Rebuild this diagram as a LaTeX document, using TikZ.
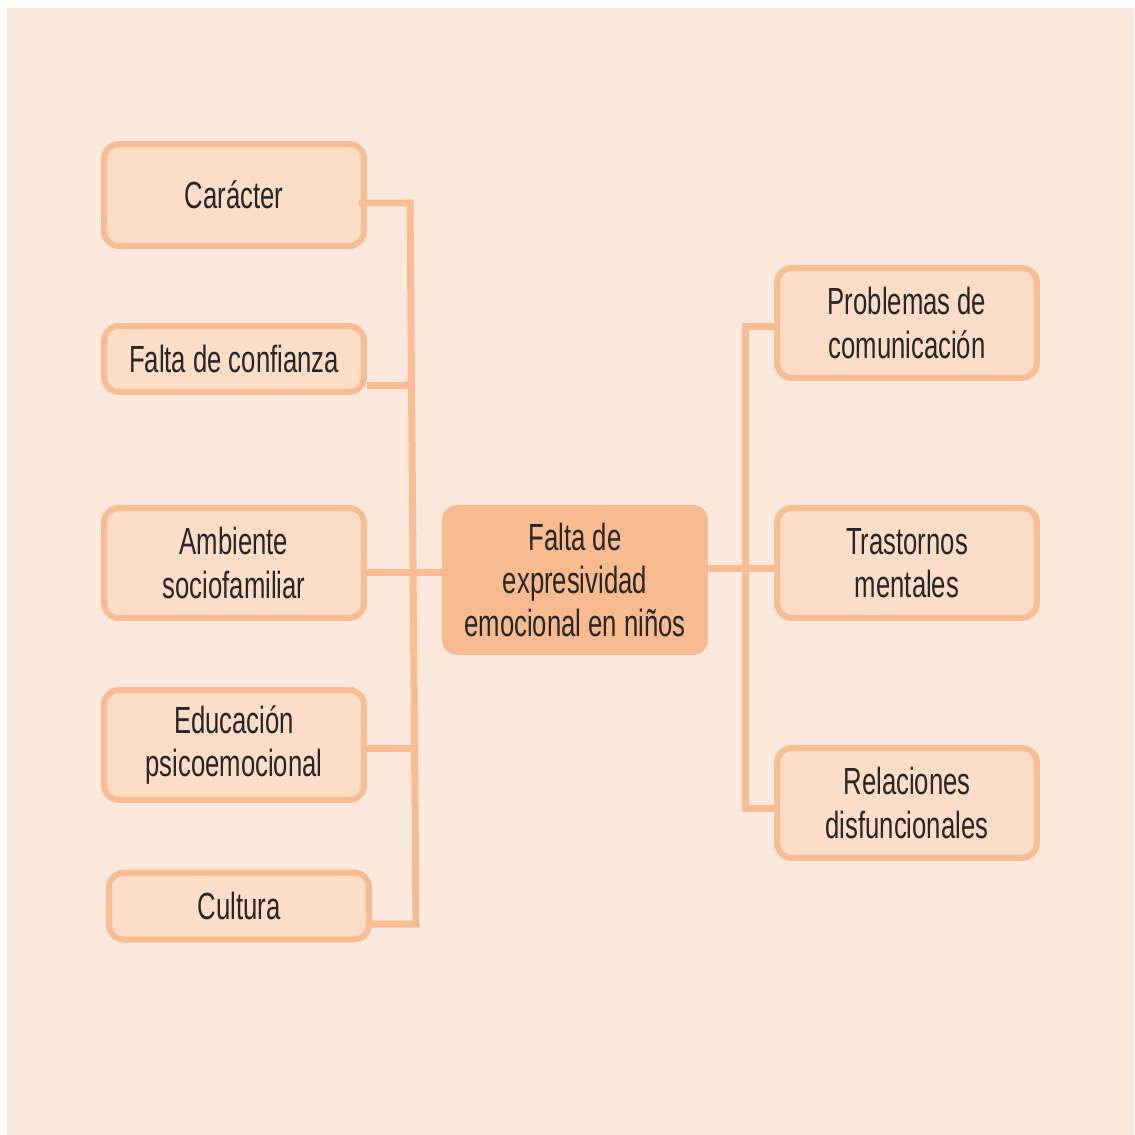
\documentclass[tikz,border=0pt]{standalone}
\usepackage{fontspec}
\setmainfont{Liberation Sans}[FakeStretch=0.68]
\definecolor{bgpeach}{HTML}{FBE9DE}
\definecolor{boxpeach}{HTML}{FCDDC8}
\definecolor{linepeach}{HTML}{F9BC92}
\definecolor{centpeach}{HTML}{F8BB90}

\begin{document}
\begin{tikzpicture}
  [x=0.02cm,y=-0.02cm,
   every node/.style={rectangle,rounded corners=0.3cm,align=center,
     font=\fontsize{21.5}{24.5}\selectfont,text=black!85},
   leaf/.style={draw=linepeach,fill=boxpeach,line width=0.12cm,minimum width=5.2cm},
   hub/.style={fill=centpeach,minimum width=5.32cm,minimum height=3cm},
   link/.style={draw=linepeach,line width=0.14cm,line join=miter}]
  \useasboundingbox (0,0) rectangle (1134,1135);
  \fill[bgpeach] (7,8) rectangle (1134,1135);

  \node[leaf,minimum height=2.04cm] (car) at (234,195) {Carácter};
  \node[leaf,minimum height=1.32cm] (conf) at (234,359) {Falta de confianza};
  \node[leaf,minimum height=2.2cm] (amb) at (234,563) {Ambiente\\sociofamiliar};
  \node[leaf,minimum height=2.2cm] (edu) at (234,745) {Educación\\psicoemocional};
  \node[leaf,minimum height=1.34cm] (cul) at (239,906) {Cultura};

  \node[hub] (cen) at (575,580) {Falta de\\expresividad\\emocional en niños};

  \node[leaf,minimum height=2.2cm] (prob) at (907,323) {Problemas de\\comunicación};
  \node[leaf,minimum height=2.2cm] (tras) at (907,563) {Trastornos\\mentales};
  \node[leaf,minimum height=2.2cm] (rel) at (907,803) {Relaciones\\disfuncionales};

  \coordinate (l1) at (410,203);
  \coordinate (l2) at (411,385);
  \coordinate (l3) at (413,572);
  \coordinate (l4) at (414,748);
  \coordinate (l5) at (416,924);
  \coordinate (r1) at (745,326);
  \coordinate (r2) at (745,568);
  \coordinate (r3) at (745,808);

  \draw[link] ([xshift=-0.16cm]car.east |- l1) -- (l1) -- (l5) -- (cul.east |- l5);
  \draw[link] (r1 -| prob.west) -- (r1) -- (r3) -- (r3 -| rel.west);

  \foreach \from/\to in {conf/l2,edu/l4}
    \draw[link] (\from.east |- \to) -- (\to);
  \draw[link] (amb.east |- l3) -- (l3 -| cen.west);
  \draw[link] (cen.east |- r2) -- (r2 -| tras.west);

\end{tikzpicture}
\end{document}
